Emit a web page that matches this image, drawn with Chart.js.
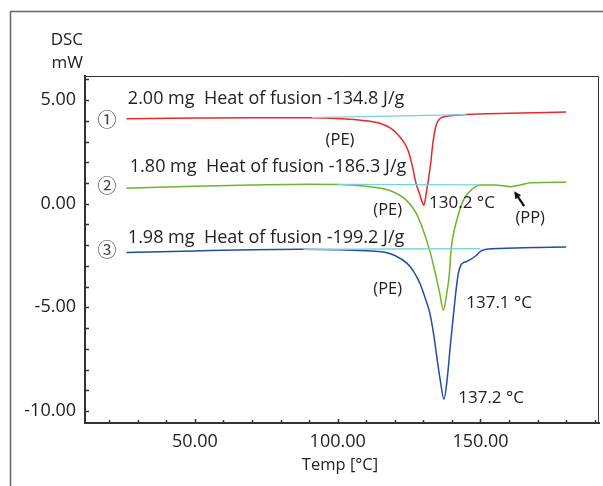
<!DOCTYPE html>
<html>
<head>
<meta charset="utf-8">
<script src="https://cdn.jsdelivr.net/npm/chart.js@4.4.1/dist/chart.umd.min.js"></script>
<style>
  body { margin: 0; background: #fff; }
  canvas { display: block; }
</style>
</head>
<body>
<canvas id="dscChart" width="603" height="486"></canvas>
<script>
// DSC curves, temperature [°C] vs heat flow [mW]
const redT = [26, 50, 70, 90, 103, 110, 115, 118.5, 120.7, 123, 124.6, 126, 127.4, 128.6, 129.5, 130.2, 131, 131.8, 132.6, 133.3, 134.3, 136, 139.4, 145, 160, 180];
const redV = [4.10, 4.13, 4.15, 4.15, 4.08, 4.0, 3.87, 3.65, 3.39, 3.0, 2.58, 1.9, 1.0, 0.5, 0.1, -0.07, 0.5, 1.2, 2.0, 2.9, 3.7, 4.13, 4.24, 4.30, 4.36, 4.42];

const greenT = [26, 50, 70, 90, 100, 109, 118, 124, 127.5, 130, 132.3, 134.2, 135.7, 137.0, 138.2, 139.1, 139.6, 140.2, 141.7, 144, 146, 148, 150, 155, 160.5, 164, 167.5, 180];
const greenV = [0.75, 0.84, 0.90, 0.94, 0.93, 0.85, 0.65, 0.17, -0.47, -1.3, -2.3, -3.37, -4.3, -5.14, -4.3, -3.4, -2.4, -1.7, -0.8, 0.17, 0.55, 0.8, 0.9, 0.9, 0.82, 0.9, 1.01, 1.04];

const blueT = [26, 50, 70, 87, 100, 110, 116, 120, 124.3, 126.5, 128.8, 130.5, 132.3, 133.6, 134.7, 136, 137.2, 138.3, 139.4, 140.2, 140.8, 141.5, 142.2, 143, 144, 145, 146.4, 148.5, 150, 152, 165, 180];
const blueV = [-2.36, -2.28, -2.22, -2.2, -2.22, -2.27, -2.33, -2.5, -2.88, -3.25, -3.85, -4.5, -5.3, -6.3, -7.4, -8.6, -9.44, -8.5, -6.9, -5.8, -5.0, -4.1, -3.4, -3.0, -2.85, -2.8, -2.7, -2.5, -2.3, -2.2, -2.13, -2.09];

// integration baselines
const redBaseT = [91, 145];
const redBaseV = [4.15, 4.30];
const greenBaseT = [100, 150];
const greenBaseV = [0.93, 0.91];
const blueBaseT = [88, 150];
const blueBaseV = [-2.2, -2.17];

const xTicks = [50, 100, 150];
const yTicks = [5, 0, -5, -10];

// annotations
const sampleMarks = ['\u2460', '\u2461', '\u2462'];
const sampleMarkV = [4.06, 0.85, -2.2];
const sampleLabels = ['2.00 mg  Heat of fusion -134.8 J/g', '1.80 mg  Heat of fusion -186.3 J/g', '1.98 mg  Heat of fusion -199.2 J/g'];
const sampleLabelT = [26.5, 27.2, 26.5];
const sampleLabelV = [5.05, 1.76, -1.67];
const peakLabels = ['(PE)', '130.2 \u00b0C', '(PE)', '(PP)', '(PE)', '137.1 \u00b0C', '137.2 \u00b0C'];
const peakLabelT = [100.8, 132, 117.5, 167.4, 117.5, 145, 142.2];
const peakLabelV = [3.07, 0.02, -0.31, -0.7, -4.13, -4.81, -9.4];
const peakAlign = ['center', 'left', 'center', 'center', 'center', 'left', 'left'];

const FONT = '"Open Sans", "Noto Sans", sans-serif';

function pts(t, v) {
    return t.map((x, i) => ({ x: x, y: v[i] }));
}

const extras = {
    id: 'extras',
    beforeDraw(chart) {
        const c = chart.ctx;
        c.save();
        c.strokeStyle = '#666';
        c.lineWidth = 1.5;
        c.beginPath();
        c.moveTo(10.5, 486);
        c.lineTo(10.5, 11.5);
        c.lineTo(603, 11.5);
        c.stroke();
        c.restore();
    },
    afterDraw(chart) {
        const c = chart.ctx;
        const xs = chart.scales.x, ys = chart.scales.y;
        const a = chart.chartArea;
        c.save();
        // top and right frame of plot
        c.strokeStyle = '#333';
        c.lineWidth = 1;
        c.beginPath();
        c.moveTo(a.left, a.top + 0.5);
        c.lineTo(a.right - 0.5, a.top + 0.5);
        c.lineTo(a.right - 0.5, a.bottom);
        c.stroke();
        // inward ticks
        c.lineWidth = 1.5;
        c.beginPath();
        for (let v = -10; v <= 6; v++) {
            const y = Math.round(ys.getPixelForValue(v)) + 0.5;
            c.moveTo(a.left, y);
            c.lineTo(a.left + 4, y);
        }
        for (let t = 20; t <= 190; t += 10) {
            const x = Math.round(xs.getPixelForValue(t)) + 0.5;
            const len = t % 50 === 0 ? 4 : 3;
            c.moveTo(x, a.bottom);
            c.lineTo(x, a.bottom - len);
        }
        c.stroke();

        c.fillStyle = '#222';
        c.textBaseline = 'middle';
        // axis titles
        c.font = '17px ' + FONT;
        c.textAlign = 'right';
        c.fillText('DSC', a.left - 2, 40);
        c.fillText('mW', a.left - 2, 63);
        c.font = '16.5px ' + FONT;
        c.textAlign = 'center';
        c.fillText('Temp [\u00b0C]', xs.getPixelForValue(100.8), 465);

        // sample labels
        c.font = '18px ' + FONT;
        c.textAlign = 'left';
        sampleLabels.forEach((s, i) => {
            c.fillText(s, xs.getPixelForValue(sampleLabelT[i]), ys.getPixelForValue(sampleLabelV[i]));
        });
        peakLabels.forEach((s, i) => {
            c.font = (s.charAt(0) === '(' ? '16.5px ' : '17px ') + FONT;
            c.textAlign = peakAlign[i];
            c.fillText(s, xs.getPixelForValue(peakLabelT[i]), ys.getPixelForValue(peakLabelV[i]));
        });
        c.font = '19px "Noto Sans CJK JP", "DejaVu Sans", sans-serif';
        c.fillStyle = '#444';
        c.textAlign = 'center';
        sampleMarks.forEach((s, i) => {
            c.fillText(s, xs.getPixelForValue(19.2), ys.getPixelForValue(sampleMarkV[i]));
        });

        // arrow pointing at PP melting
        const x1 = xs.getPixelForValue(165.3), y1 = ys.getPixelForValue(-0.12);
        const x2 = xs.getPixelForValue(161.8), y2 = ys.getPixelForValue(0.6);
        const ang = Math.atan2(y2 - y1, x2 - x1);
        c.strokeStyle = '#111';
        c.fillStyle = '#111';
        c.lineWidth = 2.2;
        c.beginPath();
        c.moveTo(x1, y1);
        c.lineTo(x2 - 4 * Math.cos(ang), y2 - 4 * Math.sin(ang));
        c.stroke();
        c.beginPath();
        c.moveTo(x2, y2);
        c.lineTo(x2 - 8 * Math.cos(ang - 0.45), y2 - 8 * Math.sin(ang - 0.45));
        c.lineTo(x2 - 8 * Math.cos(ang + 0.45), y2 - 8 * Math.sin(ang + 0.45));
        c.closePath();
        c.fill();
        c.restore();
    }
};

document.addEventListener("DOMContentLoaded", function () {
    const ctx = document.getElementById('dscChart');

    const curve = (data, color, width) => ({
        data: data,
        borderColor: color,
        borderWidth: width,
        showLine: true,
        pointRadius: 0,
        cubicInterpolationMode: 'monotone',
        fill: false
    });

    new Chart(ctx, {
        type: 'scatter',
        data: {
            datasets: [
                curve(pts(redBaseT, redBaseV), '#7ccfdf', 1.3),
                curve(pts(greenBaseT, greenBaseV), '#7ccfdf', 1.3),
                curve(pts(blueBaseT, blueBaseV), '#7ccfdf', 1.3),
                curve(pts(redT, redV), '#e8282c', 1.5),
                curve(pts(greenT, greenV), '#6cb52e', 1.5),
                curve(pts(blueT, blueV), '#1f4ea3', 1.5)
            ]
        },
        options: {
            responsive: false,
            devicePixelRatio: 1,
            animation: false,
            layout: { padding: { top: 76, right: 4, left: 0, bottom: 0 } },
            plugins: {
                legend: { display: false },
                tooltip: { enabled: false }
            },
            scales: {
                x: {
                    type: 'linear',
                    min: 11.5,
                    max: 191.5,
                    afterFit(scale) { scale.height = 63; },
                    afterBuildTicks(scale) { scale.ticks = xTicks.map(v => ({ value: v })); },
                    grid: { display: false, drawTicks: false },
                    border: { display: true, color: '#333', width: 2 },
                    ticks: {
                        padding: 8,
                        color: '#222',
                        font: { family: FONT, size: 18 },
                        callback: v => v.toFixed(2)
                    }
                },
                y: {
                    type: 'linear',
                    min: -10.58,
                    max: 6.16,
                    afterFit(scale) { scale.width = 85; },
                    afterBuildTicks(scale) { scale.ticks = yTicks.map(v => ({ value: v })); },
                    grid: { display: false, drawTicks: false },
                    border: { display: true, color: '#333', width: 2 },
                    ticks: {
                        padding: 9,
                        color: '#222',
                        font: { family: FONT, size: 18 },
                        callback: v => v.toFixed(2)
                    }
                }
            }
        },
        plugins: [extras]
    });
});
</script>
</body>
</html>
